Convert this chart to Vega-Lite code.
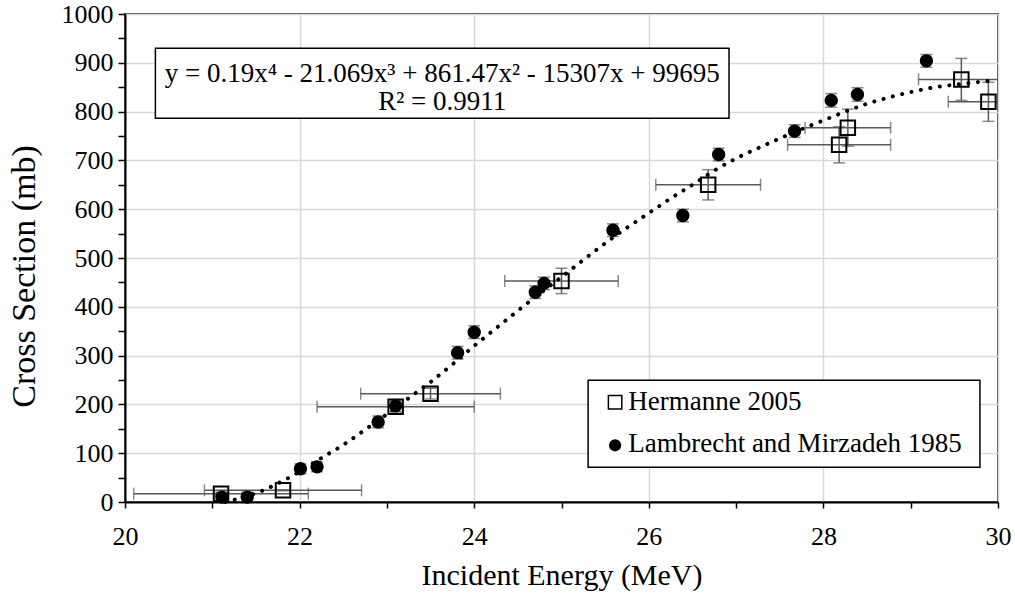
{
  "$schema": "https://vega.github.io/schema/vega-lite/v6.json",
  "width": 873,
  "height": 488,
  "autosize": "none",
  "padding": {"left": 125, "top": 14, "right": 17, "bottom": 95},
  "background": "white",
  "config": {
    "font": "Liberation Serif",
    "view": {"stroke": "black", "strokeWidth": 1.5}
  },
  "datasets": {
    "points": [
      {"series": "Hermanne 2005", "x": 21.10, "y": 17, "xlo": 20.10, "xhi": 22.10, "ylo": 16, "yhi": 18},
      {"series": "Hermanne 2005", "x": 21.81, "y": 24, "xlo": 20.91, "xhi": 22.71, "ylo": 23, "yhi": 25},
      {"series": "Hermanne 2005", "x": 23.10, "y": 195, "xlo": 22.20, "xhi": 24.00, "ylo": 185, "yhi": 205},
      {"series": "Hermanne 2005", "x": 23.50, "y": 222, "xlo": 22.70, "xhi": 24.30, "ylo": 211, "yhi": 233},
      {"series": "Hermanne 2005", "x": 25.00, "y": 453, "xlo": 24.35, "xhi": 25.65, "ylo": 427, "yhi": 479},
      {"series": "Hermanne 2005", "x": 26.68, "y": 650, "xlo": 26.08, "xhi": 27.28, "ylo": 619, "yhi": 681},
      {"series": "Hermanne 2005", "x": 28.18, "y": 732, "xlo": 27.59, "xhi": 28.77, "ylo": 695, "yhi": 769},
      {"series": "Hermanne 2005", "x": 28.28, "y": 767, "xlo": 27.79, "xhi": 28.77, "ylo": 729, "yhi": 805},
      {"series": "Hermanne 2005", "x": 29.58, "y": 866, "xlo": 29.09, "xhi": 30.07, "ylo": 823, "yhi": 909},
      {"series": "Hermanne 2005", "x": 29.89, "y": 820, "xlo": 29.43, "xhi": 30.35, "ylo": 780, "yhi": 860},
      {"series": "Lambrecht and Mirzadeh 1985", "x": 21.11, "y": 10, "ylo": 0, "yhi": 20},
      {"series": "Lambrecht and Mirzadeh 1985", "x": 21.40, "y": 10, "ylo": 0, "yhi": 20},
      {"series": "Lambrecht and Mirzadeh 1985", "x": 22.01, "y": 68, "ylo": 58, "yhi": 78},
      {"series": "Lambrecht and Mirzadeh 1985", "x": 22.20, "y": 72, "ylo": 62, "yhi": 82},
      {"series": "Lambrecht and Mirzadeh 1985", "x": 22.90, "y": 164, "ylo": 152, "yhi": 176},
      {"series": "Lambrecht and Mirzadeh 1985", "x": 23.10, "y": 197, "ylo": 185, "yhi": 209},
      {"series": "Lambrecht and Mirzadeh 1985", "x": 23.81, "y": 306, "ylo": 293, "yhi": 319},
      {"series": "Lambrecht and Mirzadeh 1985", "x": 24.00, "y": 348, "ylo": 335, "yhi": 361},
      {"series": "Lambrecht and Mirzadeh 1985", "x": 24.70, "y": 430, "ylo": 417, "yhi": 443},
      {"series": "Lambrecht and Mirzadeh 1985", "x": 24.80, "y": 448, "ylo": 435, "yhi": 461},
      {"series": "Lambrecht and Mirzadeh 1985", "x": 25.59, "y": 557, "ylo": 544, "yhi": 570},
      {"series": "Lambrecht and Mirzadeh 1985", "x": 26.39, "y": 587, "ylo": 574, "yhi": 600},
      {"series": "Lambrecht and Mirzadeh 1985", "x": 26.80, "y": 712, "ylo": 699, "yhi": 725},
      {"series": "Lambrecht and Mirzadeh 1985", "x": 27.67, "y": 760, "ylo": 747, "yhi": 773},
      {"series": "Lambrecht and Mirzadeh 1985", "x": 28.09, "y": 823, "ylo": 809, "yhi": 837},
      {"series": "Lambrecht and Mirzadeh 1985", "x": 28.39, "y": 835, "ylo": 821, "yhi": 849},
      {"series": "Lambrecht and Mirzadeh 1985", "x": 29.18, "y": 904, "ylo": 891, "yhi": 917}
    ],
    "trend": [
      {"x": 21.15, "y": 0}, {"x": 21.3, "y": 7}, {"x": 21.5, "y": 18}, {"x": 21.75, "y": 38},
      {"x": 22.0, "y": 62}, {"x": 22.25, "y": 90}, {"x": 22.5, "y": 117}, {"x": 22.75, "y": 148},
      {"x": 23.0, "y": 180}, {"x": 23.25, "y": 213}, {"x": 23.5, "y": 246}, {"x": 23.75, "y": 282},
      {"x": 24.0, "y": 320}, {"x": 24.25, "y": 356}, {"x": 24.5, "y": 392}, {"x": 24.75, "y": 427},
      {"x": 25.0, "y": 461}, {"x": 25.25, "y": 496}, {"x": 25.5, "y": 530}, {"x": 25.75, "y": 562},
      {"x": 26.0, "y": 592}, {"x": 26.25, "y": 622}, {"x": 26.5, "y": 650}, {"x": 26.75, "y": 679},
      {"x": 27.0, "y": 704}, {"x": 27.25, "y": 725}, {"x": 27.5, "y": 745}, {"x": 27.75, "y": 764},
      {"x": 28.0, "y": 782}, {"x": 28.25, "y": 800}, {"x": 28.5, "y": 816}, {"x": 28.75, "y": 829},
      {"x": 29.0, "y": 840}, {"x": 29.25, "y": 849}, {"x": 29.5, "y": 855}, {"x": 29.75, "y": 860},
      {"x": 29.9, "y": 863}
    ],
    "equation": [
      {"line": "y = 0.19x⁴ - 21.069x³ + 861.47x² - 15307x + 99695", "ypos": 860},
      {"line": "R² = 0.9911", "ypos": 802.5}
    ]
  },
  "encoding": {
    "x": {
      "type": "quantitative",
      "scale": {"domain": [20, 30], "nice": false, "zero": false},
      "axis": {
        "title": "Incident Energy (MeV)",
        "values": [20, 21, 22, 23, 24, 25, 26, 27, 28, 29, 30],
        "labelExpr": "datum.value % 2 === 0 ? datum.label : ''",
        "gridOpacity": {"condition": {"test": "datum.value % 2 === 0", "value": 1}, "value": 0},
        "gridColor": "#d9d9d9",
        "gridWidth": 1.5,
        "domainColor": "black",
        "domainWidth": 2,
        "tickColor": "black",
        "tickWidth": 1.5,
        "tickSize": 6,
        "labelFontSize": 26,
        "labelFont": "Liberation Serif",
        "labelColor": "black",
        "labelPadding": 15,
        "labelFlush": false,
        "labelOverlap": false,
        "titleFontSize": 30,
        "titleFont": "Liberation Serif",
        "titleFontWeight": "normal",
        "titleColor": "black",
        "titleY": 82,
        "titleBaseline": "alphabetic"
      }
    },
    "y": {
      "type": "quantitative",
      "scale": {"domain": [0, 1000], "nice": false},
      "axis": {
        "title": "Cross Section (mb)",
        "format": "d",
        "values": [0, 50, 100, 150, 200, 250, 300, 350, 400, 450, 500, 550, 600, 650, 700, 750, 800, 850, 900, 950, 1000],
        "labelExpr": "datum.value % 100 === 0 ? datum.label : ''",
        "gridOpacity": {"condition": {"test": "datum.value % 100 === 0", "value": 1}, "value": 0},
        "gridColor": "#d9d9d9",
        "gridWidth": 1.5,
        "domainColor": "black",
        "domainWidth": 2,
        "tickColor": "black",
        "tickWidth": 1.5,
        "tickSize": 7,
        "labelFontSize": 26,
        "labelFont": "Liberation Serif",
        "labelColor": "black",
        "labelPadding": 5,
        "labelFlush": false,
        "labelOverlap": false,
        "titleFontSize": 34,
        "titleFont": "Liberation Serif",
        "titleFontWeight": "normal",
        "titleColor": "black",
        "titleX": -101,
        "titleY": 262,
        "titleAngle": -90,
        "titleBaseline": "middle",
        "titleAlign": "center"
      }
    }
  },
  "layer": [
    {
      "data": {"name": "points"},
      "transform": [{"filter": "datum.series === 'Hermanne 2005'"}],
      "mark": {"type": "errorbar", "ticks": {"size": 12, "thickness": 1.5, "color": "#595959"}, "thickness": 1.5, "color": "#595959", "clip": true},
      "encoding": {
        "x": {"field": "xlo", "type": "quantitative"},
        "x2": {"field": "xhi"},
        "y": {"field": "y", "type": "quantitative"}
      }
    },
    {
      "data": {"name": "points"},
      "mark": {"type": "errorbar", "ticks": {"size": 12, "thickness": 1.5, "color": "#595959"}, "thickness": 1.5, "color": "#595959", "clip": true},
      "encoding": {
        "y": {"field": "ylo", "type": "quantitative"},
        "y2": {"field": "yhi"},
        "x": {"field": "x", "type": "quantitative"}
      }
    },
    {
      "data": {"name": "trend"},
      "mark": {"type": "line", "interpolate": "monotone", "color": "black", "strokeWidth": 4, "strokeCap": "round", "strokeDash": [0.1, 9.5]},
      "encoding": {
        "x": {"field": "x", "type": "quantitative"},
        "y": {"field": "y", "type": "quantitative"}
      }
    },
    {
      "data": {"name": "points"},
      "mark": {"type": "point", "filled": true, "fill": "black", "stroke": "black", "strokeWidth": 2, "opacity": 1},
      "encoding": {
        "x": {"field": "x", "type": "quantitative"},
        "y": {"field": "y", "type": "quantitative"},
        "shape": {"field": "series", "type": "nominal", "scale": {"domain": ["Hermanne 2005", "Lambrecht and Mirzadeh 1985"], "range": ["square", "circle"]}, "legend": null},
        "fillOpacity": {"field": "series", "type": "nominal", "scale": {"domain": ["Hermanne 2005", "Lambrecht and Mirzadeh 1985"], "range": [0, 1]}, "legend": null},
        "size": {"field": "series", "type": "nominal", "scale": {"domain": ["Hermanne 2005", "Lambrecht and Mirzadeh 1985"], "range": [210, 130]}, "legend": null}
      }
    },
    {
      "data": {"values": [{}]},
      "mark": {"type": "rect", "fill": "white", "stroke": "black", "strokeWidth": 1.5},
      "encoding": {
        "x": {"datum": 20.348},
        "x2": {"datum": 26.919},
        "y": {"datum": 929.7},
        "y2": {"datum": 786.5}
      }
    },
    {
      "data": {"name": "equation"},
      "mark": {"type": "text", "fontSize": 27, "font": "Liberation Serif", "color": "black", "align": "center", "baseline": "alphabetic"},
      "encoding": {
        "x": {"datum": 23.634},
        "y": {"field": "ypos", "type": "quantitative"},
        "text": {"field": "line"}
      }
    },
    {
      "data": {"values": [{}]},
      "mark": {"type": "rect", "fill": "white", "stroke": "black", "strokeWidth": 1.5},
      "encoding": {
        "x": {"datum": 25.305},
        "x2": {"datum": 29.793},
        "y": {"datum": 249.4},
        "y2": {"datum": 71.1}
      }
    },
    {
      "data": {"values": [{}]},
      "mark": {"type": "point", "shape": "square", "filled": false, "stroke": "black", "strokeWidth": 1.5, "size": 180, "opacity": 1},
      "encoding": {
        "x": {"datum": 25.614},
        "y": {"datum": 204.3}
      }
    },
    {
      "data": {"values": [{}]},
      "mark": {"type": "point", "shape": "circle", "filled": true, "fill": "black", "size": 150, "opacity": 1},
      "encoding": {
        "x": {"datum": 25.614},
        "y": {"datum": 116.2}
      }
    },
    {
      "data": {"values": [{}]},
      "mark": {"type": "text", "fontSize": 27, "font": "Liberation Serif", "color": "black", "align": "left", "baseline": "alphabetic"},
      "encoding": {
        "x": {"datum": 25.764},
        "y": {"datum": 189.3},
        "text": {"value": "Hermanne 2005"}
      }
    },
    {
      "data": {"values": [{}]},
      "mark": {"type": "text", "fontSize": 27, "font": "Liberation Serif", "color": "black", "align": "left", "baseline": "alphabetic"},
      "encoding": {
        "x": {"datum": 25.764},
        "y": {"datum": 102.5},
        "text": {"value": "Lambrecht and Mirzadeh 1985"}
      }
    }
  ]
}
